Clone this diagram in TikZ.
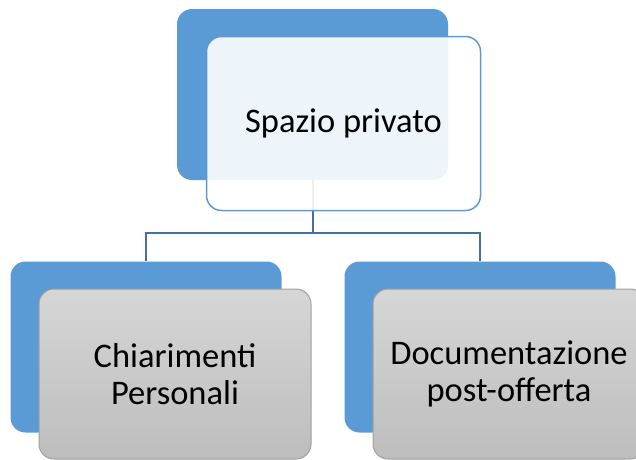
\documentclass[tikz,border=0pt]{standalone}
\usepackage{fontspec}
\setmainfont{Carlito}
\definecolor{smartblue}{RGB}{91,155,213}
\definecolor{linkblue}{RGB}{65,113,156}
\definecolor{greytop}{RGB}{214,214,214}
\definecolor{greybot}{RGB}{189,189,189}
\definecolor{greyline}{RGB}{160,160,160}

\begin{document}
\begin{tikzpicture}[x=1pt, y=-1pt,
	backbox/.style={rounded corners=15pt, fill=smartblue, inner sep=0pt,
		minimum width=271pt, minimum height=171pt},
	topbox/.style={rounded corners=15pt, draw=smartblue, line width=1.5pt,
		fill=white, fill opacity=0.9, text opacity=1, align=center,
		minimum width=274pt, minimum height=174pt,
		font=\fontsize{34.5}{37}\selectfont},
	leafbox/.style={rounded corners=15pt, draw=greyline, line width=1pt,
		top color=greytop, bottom color=greybot, align=center,
		minimum width=272pt, minimum height=170pt,
		font=\fontsize{34.5}{37}\selectfont},
	link/.style={draw=linkblue, line width=2pt}]

\useasboundingbox (0,0) rectangle (636,459);

% blaue Hintergrundkarten
\node[backbox] (topback)   at (312.5,94.5) {};
\node[backbox] (leftback)  at (146,347)    {};
\node[backbox] (rightback) at (480,347)    {};

% Verbindungslinien
\draw[link] (topback.south) -- ++(0,53) coordinate (fork) -| (leftback.north);
\draw[link] (fork) -| (rightback.north);

% Vordergrundkarten mit Text
\node[topbox]  (top)   at (343.5,123.5) {Spazio privato};
\node[leafbox] (left)  at (175,374)     {Chiarimenti\\Personali};
\node[leafbox] (right) at (509,374)     {Documentazione\\post-offerta};

\end{tikzpicture}
\end{document}
